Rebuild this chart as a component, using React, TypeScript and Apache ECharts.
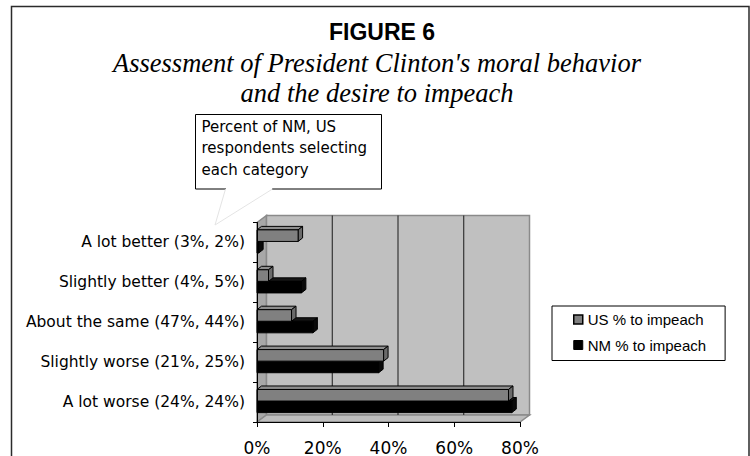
import { useEffect, useRef } from 'react';
import * as echarts from 'echarts';

// Response categories (top to bottom) with the share of respondents in each
const categories = [
  'A lot better (3%, 2%)',
  'Slightly better (4%, 5%)',
  'About the same (47%, 44%)',
  'Slightly worse (21%, 25%)',
  'A lot worse (24%, 24%)',
];
// Percent favouring impeachment within each category
const usImpeach = [12.5, 3.5, 10.5, 38.5, 76.5];
const nmImpeach = [0.5, 13.5, 17, 37, 77.5];
const xTicks = [0, 20, 40, 60, 80];
const seriesNames = ['US % to impeach', 'NM % to impeach'];

const titleText = 'FIGURE 6';
const subtitleLines = ["Assessment of President Clinton's moral behavior", 'and the desire to impeach'];
const calloutLines = ['Percent of NM, US', 'respondents selecting', 'each category'];

const SANS = '"Liberation Sans", Arial, Helvetica, sans-serif';
const WIDE_SANS = '"DejaVu Sans", "Liberation Sans", Arial, sans-serif';
const SERIF = '"Liberation Serif", "Times New Roman", serif';

// projection offsets of the pseudo-3D plot box and of each bar
const WALL_DX = 9.5;
const WALL_DY = -7;
const BAR_DX = 4.5;
const BAR_DY = -3.5;

type Face = { front: string; top: string; side: string };
const usFace: Face = { front: '#808080', top: '#8e8e8e', side: '#6a6a6a' };
const nmFace: Face = { front: '#000000', top: '#161616', side: '#0a0a0a' };

function barRenderer(upper: boolean, face: Face) {
  return (params: any, api: any) => {
    const v = api.value(0);
    const ci = api.value(1);
    const start = api.coord([0, ci]);
    const end = api.coord([v, ci]);
    const band = api.size([0, 1])[1];
    const bh = band * 0.29;
    const cy = start[1] - band * 0.025;
    const y0 = upper ? cy - bh : cy;
    const y1 = y0 + bh;
    const x0 = start[0];
    const x1 = end[0];
    const stroke = { stroke: '#000', lineWidth: 1 };
    return {
      type: 'group',
      children: [
        {
          type: 'polygon',
          shape: { points: [[x0, y0], [x0 + BAR_DX, y0 + BAR_DY], [x1 + BAR_DX, y0 + BAR_DY], [x1, y0]] },
          style: { fill: face.top, ...stroke },
        },
        {
          type: 'polygon',
          shape: { points: [[x1, y0], [x1 + BAR_DX, y0 + BAR_DY], [x1 + BAR_DX, y1 + BAR_DY], [x1, y1]] },
          style: { fill: face.side, ...stroke },
        },
        {
          type: 'rect',
          shape: { x: x0, y: y0, width: Math.max(x1 - x0, 0), height: bh },
          style: { fill: face.front, ...stroke },
        },
      ],
    };
  };
}

function wallRenderer(params: any, api: any) {
  const n = categories.length;
  const xMin = xTicks[0];
  const xMax = xTicks[xTicks.length - 1];
  const band = api.size([0, 1])[1];
  const pTop = api.coord([xMin, 0]);
  const pBot = api.coord([xMax, n - 1]);
  const left = pTop[0];
  const right = pBot[0];
  const top = pTop[1] - band / 2;
  const bottom = pBot[1] + band / 2;
  const edge = { stroke: '#8a8a8a', lineWidth: 1.5 };
  const children: any[] = [
    {
      type: 'polygon',
      shape: { points: [[left, top], [left + WALL_DX, top + WALL_DY], [left + WALL_DX, bottom + WALL_DY], [left, bottom]] },
      style: { fill: '#a8a8a8', ...edge },
    },
    {
      type: 'rect',
      shape: { x: left + WALL_DX, y: top + WALL_DY, width: right - left, height: bottom - top },
      style: { fill: '#c0c0c0', ...edge },
    },
    {
      type: 'polygon',
      shape: { points: [[left, bottom], [left + WALL_DX, bottom + WALL_DY], [right + WALL_DX, bottom + WALL_DY], [right, bottom]] },
      style: { fill: '#bdbdbd', ...edge },
    },
  ];
  xTicks.slice(1, -1).forEach((t) => {
    const x = api.coord([t, 0])[0] + WALL_DX;
    children.push({
      type: 'line',
      shape: { x1: x, y1: top + WALL_DY, x2: x, y2: bottom + WALL_DY },
      style: { stroke: '#1a1a1a', lineWidth: 1 },
    });
  });
  return { type: 'group', children };
}

export default function App() {
  const ref = useRef<HTMLDivElement>(null);

  useEffect(() => {
    document.body.style.margin = '0';
    if (!ref.current) return;
    const chart = echarts.init(ref.current, undefined, { renderer: 'svg' });

    const calloutX = 195.5;
    const calloutY = 114.5;
    const calloutW = 186;
    const calloutH = 74.5;

    chart.setOption({
      animation: false,
      backgroundColor: '#ffffff',
      grid: { left: 257, top: 222.5, width: 263, height: 199.5, containLabel: false },
      xAxis: {
        type: 'value',
        min: xTicks[0],
        max: xTicks[xTicks.length - 1],
        interval: 20,
        z: 10,
        axisLine: { show: true, lineStyle: { color: '#000', width: 1 } },
        axisTick: { show: true, length: 5, lineStyle: { color: '#000' } },
        splitLine: { show: false },
        axisLabel: {
          formatter: '{value}%',
          color: '#000',
          fontFamily: WIDE_SANS,
          fontSize: 17,
          margin: 17,
        },
      },
      yAxis: {
        type: 'category',
        data: categories,
        inverse: true,
        z: 10,
        axisLine: { show: true, lineStyle: { color: '#000', width: 1 } },
        axisTick: { show: true, length: 4, lineStyle: { color: '#000' } },
        splitLine: { show: false },
        axisLabel: { color: '#000', fontFamily: WIDE_SANS, fontSize: 15.5, margin: 12 },
      },
      legend: {
        orient: 'vertical',
        left: 552,
        top: 306,
        padding: [6, 19, 8, 21],
        itemGap: 10.5,
        itemWidth: 9,
        itemHeight: 9,
        borderColor: '#000',
        borderWidth: 1,
        borderRadius: 0,
        backgroundColor: '#fff',
        selectedMode: false,
        textStyle: { color: '#000', fontFamily: SANS, fontSize: 15 },
        data: [
          { name: seriesNames[0], icon: 'rect', itemStyle: { color: usFace.front, borderColor: '#000', borderWidth: 1.5 } },
          { name: seriesNames[1], icon: 'rect', itemStyle: { color: '#000', borderColor: '#000', borderWidth: 1 } },
        ],
      },
      series: [
        {
          type: 'custom',
          name: 'plot box',
          z: 1,
          silent: true,
          renderItem: wallRenderer,
          encode: { x: 0, y: 1 },
          data: [[xTicks[0], 0]],
        },
        {
          type: 'custom',
          name: seriesNames[1],
          z: 2,
          itemStyle: { color: '#000' },
          renderItem: barRenderer(false, nmFace),
          encode: { x: 0, y: 1 },
          data: nmImpeach.map((v, i) => [v, i]),
        },
        {
          type: 'custom',
          name: seriesNames[0],
          z: 3,
          itemStyle: { color: usFace.front },
          renderItem: barRenderer(true, usFace),
          encode: { x: 0, y: 1 },
          data: usImpeach.map((v, i) => [v, i]),
        },
      ],
      graphic: [
        {
          type: 'rect',
          z: -10,
          shape: { x: 11.5, y: 6.5, width: 737.5, height: 470 },
          style: { fill: 'none', stroke: '#2b2b2b', lineWidth: 1.5 },
        },
        {
          type: 'text',
          x: 382,
          y: 31.5,
          style: {
            text: titleText,
            fontFamily: SANS,
            fontWeight: 'bold',
            fontSize: 23,
            fill: '#000',
            align: 'center',
            verticalAlign: 'middle',
          },
        },
        ...subtitleLines.map((line, i) => ({
          type: 'text',
          x: 377,
          y: 63 + i * 30,
          style: {
            text: line,
            fontFamily: SERIF,
            fontStyle: 'italic',
            fontSize: 26.5,
            fill: '#000',
            align: 'center',
            verticalAlign: 'middle',
          },
        })),
        {
          type: 'rect',
          shape: { x: calloutX, y: calloutY, width: calloutW, height: calloutH },
          style: { fill: '#fff', stroke: '#000', lineWidth: 1 },
        },
        {
          type: 'line',
          shape: { x1: 226, y1: calloutY + calloutH, x2: 272, y2: calloutY + calloutH },
          style: { stroke: '#fff', lineWidth: 2.5 },
        },
        {
          type: 'polyline',
          shape: { points: [[225.5, calloutY + calloutH], [215, 225], [272.5, calloutY + calloutH]] },
          style: { fill: 'none', stroke: '#e4e4e4', lineWidth: 1 },
        },
        ...calloutLines.map((line, i) => ({
          type: 'text',
          x: 201.5,
          y: 126.7 + i * 21.7,
          style: {
            text: line,
            fontFamily: WIDE_SANS,
            fontSize: 15,
            fill: '#000',
            align: 'left',
            verticalAlign: 'middle',
          },
        })),
      ],
    });

    return () => chart.dispose();
  }, []);

  return <div ref={ref} style={{ width: 750, height: 456 }} />;
}
